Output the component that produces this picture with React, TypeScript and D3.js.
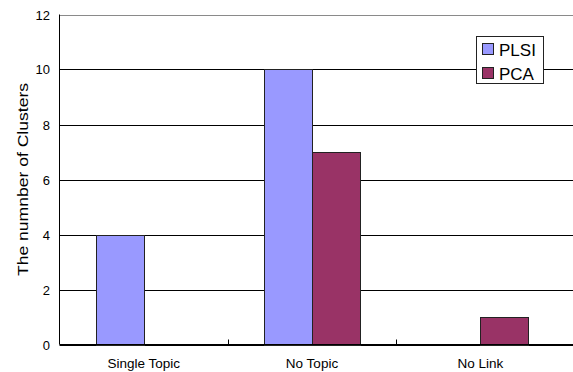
import React from "react";
import * as d3 from "d3";

const categories = ["Single Topic", "No Topic", "No Link"];
const seriesNames = ["PLSI", "PCA"];
const plsiValues = [4, 10, 0];
const pcaValues = [0, 7, 1];
const yTicks = [0, 2, 4, 6, 8, 10, 12];

const colors: Record<string, string> = { PLSI: "#9999FF", PCA: "#993366" };

const W = 573;
const H = 372;
const left = 59.5;
const right = 564.5;
const top = 14.5;
const bottom = 344.5;
const FONT = "'Liberation Sans', Arial, sans-serif";

export default function App() {
  const x = d3.scaleBand<string>().domain(categories).range([left, right]).paddingInner(0).paddingOuter(0);
  const xs = d3.scaleBand<string>().domain(seriesNames).range([0, x.bandwidth()]).paddingInner(0).paddingOuter(0.75);
  const y = d3.scaleLinear().domain([0, 12]).range([bottom, top]);

  const rows = categories.map((c, i) => ({ c, values: [plsiValues[i], pcaValues[i]] }));
  const boundaries = categories.slice(1).map((c) => x(c) as number);

  return (
    <svg width={W} height={H} style={{ position: "absolute", left: 0, top: 0, background: "#fff" }}>
      {/* horizontal gridlines */}
      {yTicks.map((t) => (
        <line
          key={"g" + t}
          x1={left}
          x2={W}
          y1={Math.round(y(t)) + 0.5}
          y2={Math.round(y(t)) + 0.5}
          stroke={t === 12 ? "#8a8a8a" : "#000"}
          strokeWidth={1}
        />
      ))}
      {/* y tick labels */}
      {yTicks.map((t) => (
        <text
          key={"t" + t}
          x={50}
          y={Math.round(y(t)) + 0.5}
          dy="0.35em"
          textAnchor="end"
          fontFamily={FONT}
          fontSize={13}
          fill="#000"
        >
          {t}
        </text>
      ))}
      {/* bars */}
      {rows.map((r) =>
        r.values.map((v, j) =>
          v > 0 ? (
            <rect
              key={r.c + j}
              x={Math.round((x(r.c) as number) + (xs(seriesNames[j]) as number)) + 0.5}
              y={Math.round(y(v)) + 0.5}
              width={Math.round(xs.bandwidth())}
              height={Math.round(y(0)) - Math.round(y(v))}
              fill={colors[seriesNames[j]]}
              stroke="#222"
              strokeWidth={1}
            />
          ) : null
        )
      )}
      {/* axes */}
      <line x1={left} x2={left} y1={top} y2={bottom} stroke="#000" strokeWidth={1} />
      <line x1={left} x2={W} y1={bottom} y2={bottom} stroke="#000" strokeWidth={1} />
      {boundaries.map((b, i) => (
        <line key={"xt" + i} x1={Math.round(b) + 0.5} x2={Math.round(b) + 0.5} y1={bottom - 5} y2={bottom} stroke="#000" />
      ))}
      {/* category labels */}
      {categories.map((c) => (
        <text
          key={"c" + c}
          x={(x(c) as number) + x.bandwidth() / 2}
          y={368}
          textAnchor="middle"
          fontFamily={FONT}
          fontSize={13.5}
          fill="#000"
        >
          {c}
        </text>
      ))}
      {/* y axis title */}
      <text
        transform={`translate(28,${(top + bottom) / 2}) rotate(-90)`}
        textAnchor="middle"
        fontFamily={FONT}
        fontSize={15}
        textLength={193}
        lengthAdjust="spacingAndGlyphs"
        fill="#000"
      >
        The numnber of Clusters
      </text>
      {/* legend */}
      <g>
        <rect x={476.5} y={36.5} width={67} height={47} fill="#fff" stroke="#222" strokeWidth={1} />
        {seriesNames.map((s, i) => (
          <g key={"l" + s}>
            <rect x={482.5} y={43.5 + i * 24} width={11} height={11} fill={colors[s]} stroke="#222" strokeWidth={1} />
            <text x={499} y={55.5 + i * 24} fontFamily={FONT} fontSize={17} fill="#000">
              {s}
            </text>
          </g>
        ))}
      </g>
    </svg>
  );
}
